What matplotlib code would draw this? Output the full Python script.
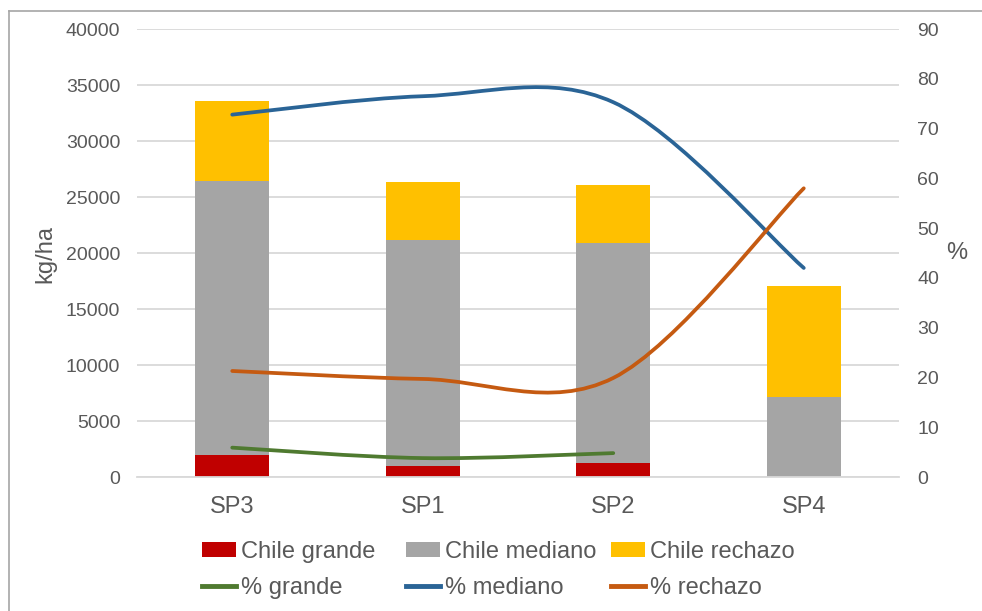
import matplotlib.pyplot as plt
import numpy as np
from matplotlib.lines import Line2D
from matplotlib.patches import PathPatch, Patch
from matplotlib.path import Path

plt.rcParams['font.family'] = ['Liberation Sans', 'DejaVu Sans']

categories = ['SP3', 'SP1', 'SP2', 'SP4']

# rendimiento por calidad (kg/ha)
chile_grande = [2000, 1010, 1250, 0]
chile_mediano = [24430, 20150, 19640, 7170]
chile_rechazo = [7140, 5180, 5180, 9910]

# porcentaje de cada calidad
pct_grande = [5.9, 3.8, 4.8]
pct_mediano = [72.8, 76.5, 75.3, 42.0]
pct_rechazo = [21.3, 19.7, 19.9, 58.0]

text_color = '#595959'
grid_color = '#D9D9D9'
c_grande = '#C00000'
c_mediano = '#A5A5A5'
c_rechazo = '#FFC000'
l_grande = '#4F7A30'
l_mediano = '#2A6496'
l_rechazo = '#C55A11'


def smooth_path(xs, ys):
    # curva suavizada tipo Excel (Bezier cubica con tangentes Catmull-Rom)
    pts = np.column_stack([xs, ys]).astype(float)
    n = len(pts)
    verts = [pts[0]]
    codes = [Path.MOVETO]
    for i in range(n - 1):
        p_prev = pts[i - 1] if i > 0 else pts[i]
        p_next = pts[i + 2] if i + 2 < n else pts[i + 1]
        c1 = pts[i] + (pts[i + 1] - p_prev) / 6
        c2 = pts[i + 1] - (p_next - pts[i]) / 6
        verts += [c1, c2, pts[i + 1]]
        codes += [Path.CURVE4] * 3
    return Path(verts, codes)


fig = plt.figure(figsize=(9.82, 6.11), dpi=100)
ax = fig.add_axes([0.1395, 0.2193, 0.776, 0.7332])
ax2 = ax.twinx()

x = np.arange(len(categories))
width = 0.39
bottom_m = np.array(chile_grande)
bottom_r = bottom_m + np.array(chile_mediano)
ax.bar(x, chile_grande, width, color=c_grande, zorder=2)
ax.bar(x, chile_mediano, width, bottom=bottom_m, color=c_mediano, zorder=2)
ax.bar(x, chile_rechazo, width, bottom=bottom_r, color=c_rechazo, zorder=2)

for vals, color in [(pct_grande, l_grande), (pct_mediano, l_mediano),
                    (pct_rechazo, l_rechazo)]:
    path = smooth_path(np.arange(len(vals)), vals)
    ax2.add_patch(PathPatch(path, fill=False, edgecolor=color, lw=2.7,
                            capstyle='round', joinstyle='round'))

ax.set_xlim(-0.5, 3.5)
ax.set_ylim(0, 40000)
ax.set_yticks(np.arange(0, 40001, 5000))
ax2.set_ylim(0, 90)
ax2.set_yticks(np.arange(0, 91, 10))
ax.set_xticks(x)
ax.set_xticklabels(categories)

ax.grid(axis='y', color=grid_color, lw=1.3, zorder=0)
ax.set_axisbelow(True)
for a in (ax, ax2):
    for s in a.spines.values():
        s.set_visible(False)
ax.spines['bottom'].set_visible(True)
ax.spines['bottom'].set_color(grid_color)
ax.spines['bottom'].set_linewidth(1.3)

ax.tick_params(axis='y', length=0, pad=12, labelsize=14, labelcolor=text_color)
ax.tick_params(axis='x', length=0, pad=14, labelsize=17, labelcolor=text_color)
ax2.tick_params(axis='y', length=0, pad=13, labelsize=14, labelcolor=text_color)

fig.text(45 / 982, 1 - 254 / 611, 'kg/ha', rotation=90, ha='center', va='center',
         fontsize=17, color=text_color)
fig.text(957 / 982, 1 - 253 / 611, '%', ha='center', va='center',
         fontsize=17, color=text_color)

# leyenda en tres columnas
legend_cols = [
    (202, 'Chile grande', c_grande, '% grande', l_grande),
    (406, 'Chile mediano', c_mediano, '% mediano', l_mediano),
    (611, 'Chile rechazo', c_rechazo, '% rechazo', l_rechazo),
]
for xpos, bar_label, bar_color, line_label, line_color in legend_cols:
    handles = [Patch(facecolor=bar_color), Line2D([], [], color=line_color, lw=3.5)]
    fig.legend(handles, [bar_label, line_label], loc='center left',
               bbox_to_anchor=(xpos / 982, 1 - 570 / 611), frameon=False,
               fontsize=17, labelcolor=text_color, borderpad=0,
               borderaxespad=0, handlelength=1.46, handleheight=0.55,
               handletextpad=0.2, labelspacing=0.6)

# borde del area del grafico
border = '#A6A6A6'
fig.add_artist(Line2D([8.5 / 982, 8.5 / 982], [0, 1 - 11 / 611],
                      transform=fig.transFigure, color=border, lw=1.2))
fig.add_artist(Line2D([8.5 / 982, 1], [1 - 11 / 611, 1 - 11 / 611],
                      transform=fig.transFigure, color=border, lw=1.2))

fig.savefig('out.png', dpi=100)
